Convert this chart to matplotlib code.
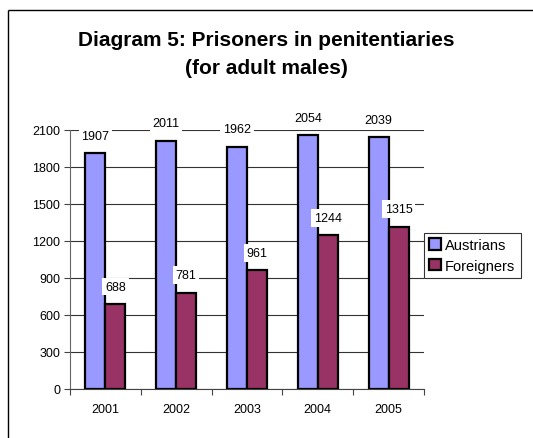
import matplotlib
matplotlib.use("Agg")
import matplotlib.pyplot as plt
from matplotlib.lines import Line2D
import numpy as np

plt.rcParams['font.family'] = ['Liberation Sans', 'DejaVu Sans']

years = ['2001', '2002', '2003', '2004', '2005']
austrians = [1907, 2011, 1962, 2054, 2039]
foreigners = [688, 781, 961, 1244, 1315]

fig = plt.figure(figsize=(5.33, 4.39), dpi=100)
# outer chart frame (only left/top edges visible in the crop)
fx, fy = 7.5 / 533, 1 - 10.5 / 439
fig.lines.append(Line2D([fx, fx], [-0.05, fy], transform=fig.transFigure,
                        color='black', linewidth=1.0, solid_capstyle='butt'))
fig.lines.append(Line2D([fx, 1.05], [fy, fy], transform=fig.transFigure,
                        color='black', linewidth=1.0, solid_capstyle='butt'))

fig.text(0.5, 1 - 40 / 439, 'Diagram 5: Prisoners in penitentiaries',
         ha='center', va='center', fontsize=15, fontweight='bold')
fig.text(0.5, 1 - 68 / 439, '(for adult males)',
         ha='center', va='center', fontsize=15, fontweight='bold')

ax = fig.add_axes([70 / 533, 1 - 390 / 439, 354 / 533, 259.4 / 439])

x = np.arange(len(years))
w = 0.283
b1 = ax.bar(x - w / 2, austrians, w, color='#9999FF', edgecolor='black',
            linewidth=1.6, label='Austrians', zorder=3)
b2 = ax.bar(x + w / 2, foreigners, w, color='#993366', edgecolor='black',
            linewidth=1.6, label='Foreigners', zorder=3)

for bars, vals in ((b1, austrians), (b2, foreigners)):
    for rect, v in zip(bars, vals):
        ax.annotate(str(v), (rect.get_x() + rect.get_width() / 2, v),
                    xytext=(0, 12.5), textcoords='offset points',
                    ha='center', va='center', fontsize=9, zorder=4,
                    bbox=dict(facecolor='white', edgecolor='none', pad=2))

ax.set_xlim(-0.5, len(years) - 0.5)
ax.set_ylim(0, 2100)
ax.set_yticks(np.arange(0, 2101, 300))
ax.set_xticks(x)
ax.set_xticklabels(years)
ax.set_xticks(np.arange(-0.5, len(years), 1), minor=True)
ax.tick_params(axis='x', which='major', length=0, pad=10, labelsize=9)
ax.tick_params(axis='x', which='minor', length=4, width=0.8, color='#444')
ax.tick_params(axis='y', length=4, width=0.8, color='#444', labelsize=9, pad=3)
ax.yaxis.grid(True, color='#333', linewidth=0.8, zorder=0)
ax.set_axisbelow(True)

for s in ('top', 'right'):
    ax.spines[s].set_visible(False)
ax.spines['left'].set_color('#666')
ax.spines['bottom'].set_color('#444')

leg = ax.legend(loc='center left', bbox_to_anchor=(1.0, 0.515), fontsize=10.5,
                frameon=True, fancybox=False, edgecolor='black',
                handlelength=0.8, handleheight=0.8, handletextpad=0.3,
                borderpad=0.35, labelspacing=0.45, borderaxespad=0)
leg.get_frame().set_linewidth(0.8)

fig.savefig('out.png', dpi=100)
